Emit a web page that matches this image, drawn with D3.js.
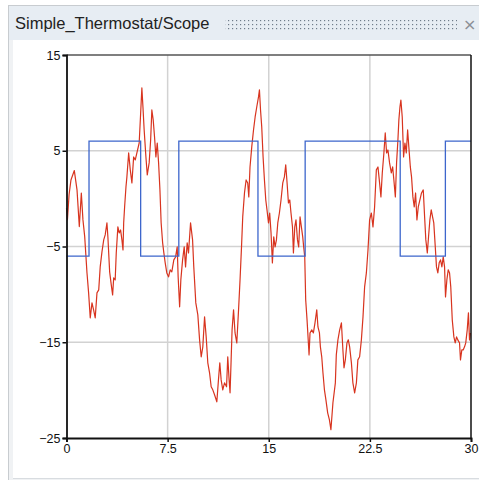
<!DOCTYPE html>
<html><head><meta charset="utf-8">
<script src="https://cdn.jsdelivr.net/npm/d3@7"></script>
<style>body{margin:0;background:#fff;}svg{display:block;}</style>
</head><body>
<script>
const title = "Simple_Thermostat/Scope";
const xTicks = [0, 7.5, 15, 22.5, 30];
const yTicks = [15, 5, -5, -15, -25];
// Blue: thermostat heater state (step signal)
const stepTimes = [0, 1.67, 5.5, 8.33, 14.2, 17.7, 24.75, 28.1, 30];
const stepValues = [-6, 6, -6, 6, -6, 6, -6, 6, 6];
// Red: measured temperature
const tempTimes = [0,0.07,0.19,0.33,0.58,0.78,0.95,1.10,1.22,1.35,1.52,1.64,1.76,1.89,2.01,2.13,2.26,2.39,2.50,2.63,2.76,2.87,3.00,3.07,3.20,3.32,3.42,3.50,3.61,3.69,3.81,3.91,4.01,4.11,4.19,4.24,4.31,4.41,4.48,4.61,4.73,4.85,4.98,5.10,5.22,5.39,5.50,5.59,5.67,5.76,5.89,5.99,6.13,6.24,6.33,6.43,6.53,6.63,6.73,6.83,6.93,7.02,7.13,7.22,7.32,7.44,7.57,7.69,7.81,7.96,8.09,8.21,8.28,8.39,8.48,8.61,8.73,8.83,8.95,9.05,9.20,9.35,9.44,9.59,9.74,9.87,9.99,10.11,10.24,10.36,10.48,10.61,10.73,10.85,10.98,11.15,11.27,11.37,11.47,11.59,11.72,11.87,11.96,12.06,12.13,12.21,12.28,12.39,12.50,12.63,12.76,12.87,12.98,13.07,13.20,13.32,13.44,13.52,13.61,13.74,13.87,13.99,14.11,14.24,14.31,14.39,14.48,14.58,14.68,14.78,14.87,14.98,15.07,15.17,15.27,15.37,15.47,15.57,15.67,15.79,15.91,16.04,16.16,16.26,16.36,16.46,16.56,16.65,16.76,16.83,16.93,17.02,17.13,17.22,17.32,17.42,17.52,17.59,17.67,17.74,17.84,17.94,17.99,18.06,18.19,18.31,18.43,18.56,18.65,18.76,18.83,18.93,19.02,19.13,19.24,19.37,19.50,19.61,19.76,19.94,20.01,20.13,20.26,20.39,20.50,20.58,20.68,20.80,20.90,21.00,21.13,21.24,21.37,21.50,21.61,21.74,21.87,21.99,22.11,22.24,22.36,22.48,22.61,22.73,22.85,22.98,23.10,23.22,23.32,23.42,23.54,23.64,23.74,23.84,23.96,24.09,24.19,24.28,24.39,24.48,24.58,24.65,24.73,24.80,24.90,25.00,25.10,25.20,25.30,25.39,25.50,25.59,25.69,25.79,25.89,25.99,26.09,26.21,26.33,26.46,26.56,26.65,26.76,26.85,26.95,27.05,27.15,27.24,27.35,27.44,27.54,27.64,27.74,27.84,27.94,28.04,28.11,28.21,28.31,28.41,28.50,28.61,28.73,28.83,28.93,29.02,29.15,29.22,29.32,29.42,29.52,29.61,29.72,29.81,29.89,29.96];
const tempValues = [-1.0,-2.2,0.4,1.95,2.93,0.91,-2.92,0.59,-2.22,-3.97,-7.76,-9.84,-12.45,-10.89,-11.62,-12.45,-9.84,-9.53,-7.13,-5.56,-4.31,-3.79,-2.54,-4.0,-7.65,-9.01,-10.05,-8.28,-8.49,-5.67,-2.95,-3.58,-3.27,-4.31,-5.36,-2.54,-0.87,1.22,2.27,4.77,3.0,1.64,4.35,4.04,4.77,5.81,8.95,11.56,9.57,7.17,4.35,2.47,3.73,6.13,9.26,8.22,6.44,4.35,5.81,3.73,0.91,-2.54,-4.62,-5.67,-6.71,-7.76,-8.17,-7.44,-7.65,-6.4,-6.09,-5.04,-8.17,-11.3,-8.49,-6.4,-5.04,-7.13,-4.62,-5.67,-2.54,-4.31,-7.13,-10.89,-12.14,-14.75,-16.52,-15.48,-12.35,-14.44,-17.15,-18.19,-19.65,-19.97,-20.49,-21.22,-18.93,-17.15,-18.93,-19.97,-19.24,-19.65,-16.52,-18.93,-20.28,-16.84,-13.71,-11.62,-14.03,-15.07,-11.62,-8.49,-5.04,-1.91,0.59,1.95,1.64,0.18,3.31,5.4,7.17,8.53,9.57,10.62,11.35,9.26,7.49,4.35,1.95,-0.14,-1.18,-2.54,-1.5,-3.58,-6.71,-4.0,-5.04,-4.31,-2.54,-1.5,-0.14,1.64,2.27,3.52,1.64,-0.45,-0.14,-1.5,-2.95,-5.67,-2.95,-2.22,-4.31,-5.04,-1.91,-2.95,-4.0,-5.04,-6.09,-10.57,-12.66,-15.07,-16.32,-14.03,-13.71,-14.03,-12.98,-11.62,-13.4,-14.03,-15.48,-16.52,-18.19,-19.97,-21.01,-22.37,-23.1,-24.14,-21.32,-19.24,-16.32,-14.75,-13.71,-12.98,-15.8,-17.67,-16.84,-15.07,-14.75,-15.48,-17.15,-19.24,-20.28,-19.24,-16.84,-16.52,-14.75,-12.35,-9.22,-7.76,-5.36,-2.22,-1.5,-2.95,-0.87,3.0,3.31,1.64,0.18,2.68,4.77,6.86,4.77,5.08,3.73,2.68,3.31,1.95,0.18,3.73,6.13,8.22,9.57,10.3,8.53,4.35,5.81,4.77,7.17,5.4,3.31,2.27,0.18,-0.87,0.59,-2.22,-0.87,-0.14,0.59,0.91,-1.91,-4.31,-5.67,-4.0,-2.22,-1.18,-1.91,-2.54,-5.04,-7.13,-7.76,-6.71,-6.4,-7.13,-6.09,-7.13,-10.26,-8.49,-7.44,-7.76,-9.22,-12.66,-14.44,-15.07,-14.44,-14.75,-15.07,-16.84,-15.8,-15.8,-15.48,-15.07,-13.71,-11.93,-14.75,-14.03];

const W = 479, H = 480;
const svg = d3.select("body").append("svg").attr("width", W).attr("height", H);

// window frame
svg.append("rect").attr("x",0).attr("y",0).attr("width",W).attr("height",H).attr("fill","#fff");
svg.append("rect").attr("x",8).attr("y",5).attr("width",W-8).attr("height",H-5).attr("fill","#f0f2f4");
svg.append("rect").attr("x",13).attr("y",40).attr("width",W-13).attr("height",H-42).attr("fill","#fff");
svg.append("line").attr("x1",8.5).attr("x2",8.5).attr("y1",5).attr("y2",H).attr("stroke","#c8ccd0");
svg.append("line").attr("x1",8).attr("x2",W).attr("y1",5.5).attr("y2",5.5).attr("stroke","#c8ccd0");
// title bar
svg.append("rect").attr("x",9).attr("y",6).attr("width",W-9).attr("height",34).attr("fill","#e7edf3");
svg.append("text").attr("x",15).attr("y",29).attr("font-family","Liberation Sans, Arial, sans-serif")
  .attr("font-size",16.5).attr("fill","#222").text(title);
const defs = svg.append("defs");
const pat = defs.append("pattern").attr("id","grip").attr("width",4).attr("height",4).attr("patternUnits","userSpaceOnUse");
pat.append("rect").attr("x",0).attr("y",0).attr("width",1.2).attr("height",1.2).attr("fill","#6f7c8a");
svg.append("rect").attr("x",225).attr("y",20).attr("width",232).attr("height",10).attr("fill","url(#grip)");
svg.append("text").attr("x",463).attr("y",30).attr("font-family","DejaVu Sans, sans-serif")
  .attr("font-size",16).attr("fill","#8a8f96").text("\u00d7");
svg.append("line").attr("x1",13).attr("x2",W).attr("y1",H-1.5).attr("y2",H-1.5).attr("stroke","#d8dce0");

// plot area
const x = d3.scaleLinear().domain([0, 30]).range([66.5, 471]);
const y = d3.scaleLinear().domain([-25, 15]).range([438, 55]);

const grid = svg.append("g");
grid.selectAll(".vg").data(xTicks.slice(1, -1)).join("line")
  .attr("x1", d => x(d)).attr("x2", d => x(d)).attr("y1", y(15)).attr("y2", y(-25))
  .attr("stroke", "#d2d2d2").attr("stroke-width", 1.5);
grid.selectAll(".hg").data(yTicks.slice(1, -1)).join("line")
  .attr("x1", x(0)).attr("x2", x(30)).attr("y1", d => y(d)).attr("y2", d => y(d))
  .attr("stroke", "#d2d2d2").attr("stroke-width", 1.5);

const stepData = stepTimes.map((t, i) => [t, stepValues[i]]);
const tempData = tempTimes.map((t, i) => [t, tempValues[i]]);

svg.append("path").datum(tempData)
  .attr("d", d3.line().x(d => x(d[0])).y(d => y(d[1])))
  .attr("fill", "none").attr("stroke", "#d8341f").attr("stroke-width", 1.2).attr("stroke-linejoin","round");
svg.append("path").datum(stepData)
  .attr("d", d3.line().curve(d3.curveStepAfter).x(d => x(d[0])).y(d => y(d[1])))
  .attr("fill", "none").attr("stroke", "#3d66cc").attr("stroke-width", 1.3);

// frame
svg.append("line").attr("x1", x(0)).attr("x2", x(30)).attr("y1", y(15)).attr("y2", y(15)).attr("stroke", "#555").attr("stroke-width", 1.5);
svg.append("line").attr("x1", x(30)).attr("x2", x(30)).attr("y1", y(15)).attr("y2", y(-25)).attr("stroke", "#111").attr("stroke-width", 1.5);

const fontAx = "Liberation Sans, Arial, sans-serif";
const yAxis = svg.append("g").attr("transform", `translate(${x(0)},0)`)
  .call(d3.axisLeft(y).tickValues(yTicks).tickSize(4).tickPadding(2).tickFormat(d3.format("d")));
const xAxis = svg.append("g").attr("transform", `translate(0,${y(-25)})`)
  .call(d3.axisBottom(x).tickValues(xTicks).tickSize(4).tickPadding(2).tickFormat(d => String(d)));
[yAxis, xAxis].forEach(g => {
  g.select(".domain").attr("stroke", "#111").attr("stroke-width", 1.8);
  g.selectAll(".tick line").attr("stroke", "#111").attr("stroke-width", 1.5);
  g.selectAll(".tick text").attr("font-family", fontAx).attr("font-size", 12.5).attr("fill", "#111");
});
</script>
</body></html>
